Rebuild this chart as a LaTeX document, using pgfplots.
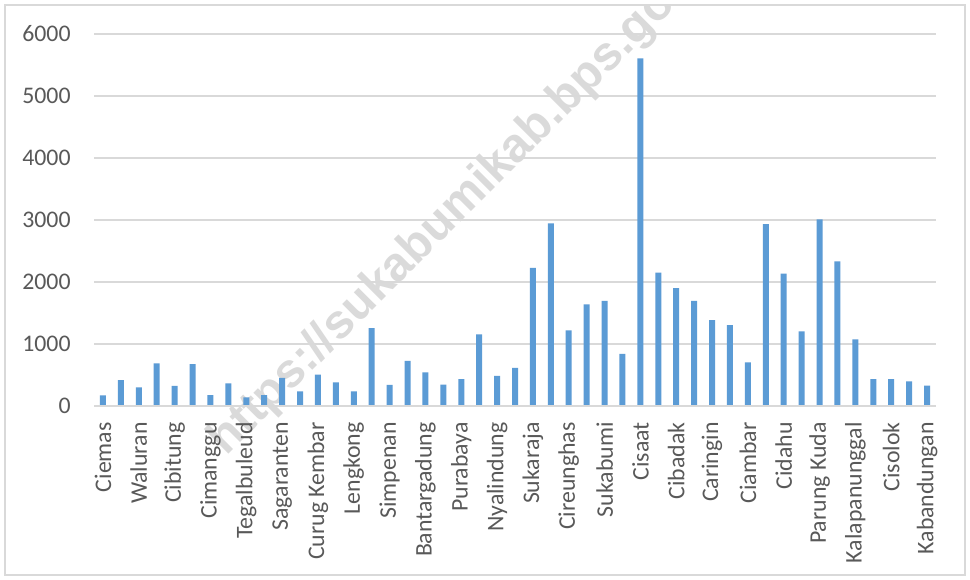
\documentclass[border=0pt]{standalone}
\usepackage{pgfplots}
\pgfplotsset{compat=1.18}
\usepackage{fontspec}
\setmainfont{Carlito}
\newfontfamily\wmfont{Liberation Sans}
\definecolor{barblue}{RGB}{91,155,213}
\definecolor{gridgray}{RGB}{217,217,217}
\definecolor{labgray}{RGB}{89,89,89}
\definecolor{wmgray}{RGB}{218,218,218}
\begin{document}
\begin{tikzpicture}[x=1pt,y=1pt]
\useasboundingbox (0,0) rectangle (485,289.5);
\fill[white] (0,0) rectangle (485,289.5);
\begin{scope}
\clip (2.5,2) rectangle (482.5,287);
\node[rotate=45, anchor=base west, inner sep=0pt, text=wmgray, font=\wmfont\bfseries\fontsize{24}{28}\selectfont] at (113,61) {https://sukabumikab.bps.go.id};
\end{scope}
\draw[gridgray, line width=0.6pt] (2.5,2) rectangle (482.5,287);
\begin{axis}[
  at={(47pt,86.5pt)}, anchor=south west,
  width=421pt, height=186pt, scale only axis,
  ymin=0, ymax=6000, xmin=0.5, xmax=47.5,
  ytick={0,1000,...,6000},
  xtick={1,3,...,47},
  xticklabels={Ciemas,Waluran,Cibitung,Cimanggu,Tegalbuleud,Sagaranten,Curug Kembar,Lengkong,Simpenan,Bantargadung,Purabaya,Nyalindung,Sukaraja,Cireunghas,Sukabumi,Cisaat,Cibadak,Caringin,Ciambar,Cidahu,Parung Kuda,Kalapanunggal,Cisolok,Kabandungan},
  major tick length=0pt,
  axis line style={draw=none},
  axis x line*=bottom,
  axis y line*=left,
  ymajorgrids, grid style={gridgray, line width=0.75pt},
  tick label style={font=\fontsize{11.9}{14}\selectfont, text=labgray, inner sep=0pt},
  /pgf/number format/assume math mode=true,
  /pgf/number format/1000 sep={},
  xticklabel style={rotate=90, anchor=east},
  xticklabel shift=8pt,
  yticklabel shift=11.5pt,
  clip=false,
]
\addplot[ybar, bar width=3pt, fill=barblue, draw=none] coordinates {
(1,172) (2,419) (3,301) (4,688) (5,323) (6,677) (7,177) (8,366) (9,140) (10,177)
(11,452) (12,237) (13,505) (14,382) (15,237) (16,1258) (17,339) (18,726) (19,543) (20,344)
(21,435) (22,1156) (23,484) (24,613) (25,2226) (26,2946) (27,1220) (28,1640) (29,1694) (30,839)
(31,5608) (32,2151) (33,1903) (34,1694) (35,1387) (36,1306) (37,704) (38,2935) (39,2134) (40,1204)
(41,3011) (42,2333) (43,1075) (44,435) (45,435) (46,398) (47,328)
};
\draw[gridgray, line width=0.75pt] (axis cs:0.5,0) -- (axis cs:47.5,0);
\end{axis}
\end{tikzpicture}
\end{document}
